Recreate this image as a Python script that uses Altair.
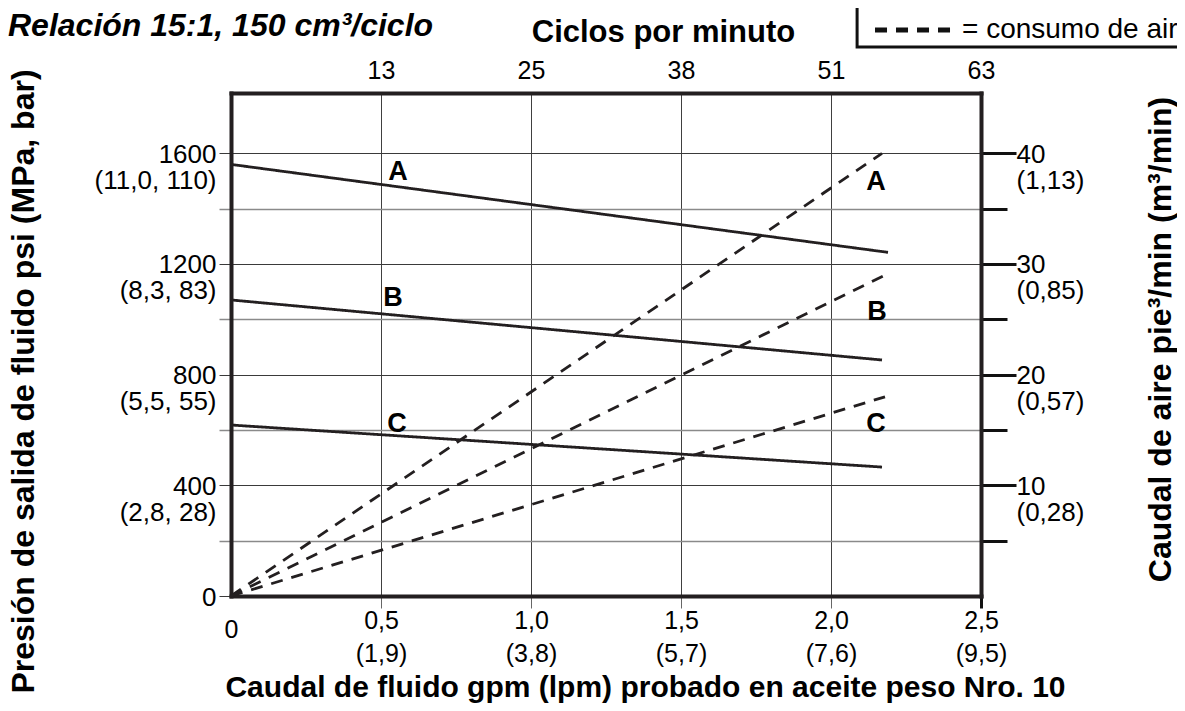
import altair as alt
import pandas as pd

FONT = "Liberation Sans"
INK = "#231f20"

# ---------------- data ----------------
series = ["A", "B", "C"]
# fluid outlet pressure (solid lines), psi vs gpm
fluid_gpm_start = [0.0, 0.0, 0.0]
fluid_gpm_end = [2.19, 2.17, 2.17]
fluid_psi_start = [1560, 1070, 618]
fluid_psi_end = [1242, 853, 466]
# air consumption (dashed lines), scfm vs gpm
air_gpm_start = [0.0, 0.0, 0.0]
air_gpm_end = [2.17, 2.18, 2.18]
air_scfm_start = [0.0, 0.0, 0.0]
air_scfm_end = [40.0, 29.0, 18.0]

# curve letters
letter_text = ["A", "B", "C", "A", "B", "C"]
letter_gpm = [0.557, 0.54, 0.553, 2.15, 2.153, 2.15]
letter_psi = [1532, 1077, 622, 1496, 1026, 622]

# legend frame (in chart units, top-right corner outside the plot)
legend_box_gpm = [2.087, 3.2]
legend_box_psi = [1984, 2160]

# axis ticks and labels
gpm_ticks = [0, 0.5, 1.0, 1.5, 2.0, 2.5]
gpm_labels = ["0", "0,5", "1,0", "1,5", "2,0", "2,5"]
lpm_labels = ["", "(1,9)", "(3,8)", "(5,7)", "(7,6)", "(9,5)"]
cpm_ticks = [0.5, 1.0, 1.5, 2.0, 2.5]
cpm_labels = ["13", "25", "38", "51", "63"]
psi_grid = [0, 200, 400, 600, 800, 1000, 1200, 1400, 1600]
psi_ticks = [0, 400, 800, 1200, 1600]
psi_labels = ["0", "400", "800", "1200", "1600"]
mpa_bar_labels = ["", "(2,8, 28)", "(5,5, 55)", "(8,3, 83)", "(11,0, 110)"]
scfm_grid = [5, 10, 15, 20, 25, 30, 35, 40]
scfm_ticks = [10, 20, 30, 40]
scfm_labels = ["10", "20", "30", "40"]
m3_labels = ["(0,28)", "(0,57)", "(0,85)", "(1,13)"]

PSI_MAX = 1818
SCFM_MAX = PSI_MAX / 40.0
KIND_FLUID = "= caudal de fluido"
KIND_AIR = "= consumo de aire"

# ---------------- tables ----------------
fluid_rows = []
for s, g0, g1, p0, p1 in zip(series, fluid_gpm_start, fluid_gpm_end, fluid_psi_start, fluid_psi_end):
    fluid_rows.append({"serie": s, "gpm": g0, "psi": p0, "kind": KIND_FLUID})
    fluid_rows.append({"serie": s, "gpm": g1, "psi": p1, "kind": KIND_FLUID})
fluid_df = pd.DataFrame(fluid_rows)

air_rows = []
for s, g0, g1, a0, a1 in zip(series, air_gpm_start, air_gpm_end, air_scfm_start, air_scfm_end):
    air_rows.append({"serie": s, "gpm": g0, "scfm": a0, "kind": KIND_AIR})
    air_rows.append({"serie": s, "gpm": g1, "scfm": a1, "kind": KIND_AIR})
air_df = pd.DataFrame(air_rows)

letters_df = pd.DataFrame({"label": letter_text, "gpm": letter_gpm, "psi": letter_psi})
box_df = pd.DataFrame({"gpm": [legend_box_gpm[0]], "gpm2": [legend_box_gpm[1]],
                       "psi": [legend_box_psi[0]], "psi2": [legend_box_psi[1]]})


def js(s):
    return "'" + s.replace("'", "\\'") + "'"


def expr_map(values, literals, default="''"):
    out = ""
    for v, l in zip(values, literals):
        out += f"datum.value == {v} ? {l} : "
    return out + default


def two_lines(a, b):
    if b:
        return "[" + js(a) + "," + js(b) + "]"
    return js(a)


bottom_expr = expr_map(gpm_ticks, [two_lines(a, b) for a, b in zip(gpm_labels, lpm_labels)])
left_expr = expr_map(psi_ticks, [two_lines(a, b) for a, b in zip(psi_labels, mpa_bar_labels)])
right_expr = expr_map(scfm_ticks, [two_lines(a, b) for a, b in zip(scfm_labels, m3_labels)])
top_expr = expr_map(cpm_ticks, [js(a) for a in cpm_labels])

x_scale = alt.Scale(domain=[0, 2.5], nice=False, zero=False)
psi_scale = alt.Scale(domain=[0, PSI_MAX], nice=False)
scfm_scale = alt.Scale(domain=[0, SCFM_MAX], nice=False)
dash_scale = alt.Scale(domain=[KIND_FLUID, KIND_AIR], range=[[1, 0], [12, 9]])

frame = dict(domain=True, domainColor=INK, domainWidth=4, domainCap="square")

bottom_axis = alt.Axis(
    values=gpm_ticks, labelExpr=bottom_expr, grid=True, **frame,
    gridColor="#404040", gridWidth=1,
    tickSize=12, tickColor={"condition": {"test": "datum.value == 2.5", "value": "#111111"}, "value": "#666666"},
    tickWidth={"condition": {"test": "datum.value == 2.5", "value": 3}, "value": 1},
    tickOpacity={"condition": {"test": "datum.value == 0", "value": 0}, "value": 1},
    labelFontSize=25, labelFont=FONT, labelColor="black",
    labelBaseline="alphabetic", labelLineHeight=33,
    labelPadding={"condition": {"test": "datum.value == 0", "value": 29}, "value": 20},
    labelFlush=False, labelOverlap=False,
    title="Caudal de fluido gpm (lpm) probado en aceite peso Nro. 10",
    titleFont=FONT, titleFontSize=30, titleFontWeight="bold", titleColor="black",
    titleX=414, titleY=100, titleAlign="center", titleBaseline="alphabetic",
)

left_axis = alt.Axis(
    values=psi_grid, labelExpr=left_expr, grid=True, **frame,
    gridColor={"condition": {"test": "datum.value % 400 == 0", "value": "#3a3a3a"}, "value": "#8a8a8a"},
    gridWidth={"condition": {"test": "datum.value % 400 == 0", "value": 1}, "value": 1.5},
    tickSize=12, tickColor={"condition": {"test": "datum.value % 400 == 0", "value": "#3a3a3a"}, "value": "#8a8a8a"},
    tickWidth={"condition": {"test": "datum.value % 400 == 0", "value": 1}, "value": 1.5},
    labelFontSize=26, labelFont=FONT, labelColor="black",
    labelAlign="right", labelBaseline="alphabetic", labelLineHeight=26,
    labelOffset=9, labelPadding=3, labelFlush=False, labelOverlap=False,
    title="Presión de salida de fluido psi (MPa, bar)",
    titleFont=FONT, titleFontSize=32, titleFontWeight="bold", titleColor="black",
    titleAngle=270, titleX=-198, titleY=288, titleAlign="center", titleBaseline="alphabetic",
)

top_axis = alt.Axis(
    orient="top", values=cpm_ticks, labelExpr=top_expr, grid=False, **frame, ticks=False,
    labelFontSize=25, labelFont=FONT, labelColor="black",
    labelBaseline="alphabetic", labelPadding=15, labelFlush=False, labelOverlap=False,
    title="Ciclos por minuto",
    titleFont=FONT, titleFontSize=31, titleFontWeight="bold", titleColor="black",
    titleX=432, titleY=-52, titleAlign="center", titleBaseline="alphabetic",
)

right_axis = alt.Axis(
    orient="right", values=scfm_grid, labelExpr=right_expr, grid=False, **frame,
    tickColor="#111111", tickWidth=3,
    tickSize={"condition": {"test": "datum.value % 10 == 0", "value": 35}, "value": 26},
    labelFontSize=26, labelFont=FONT, labelColor="black",
    labelAlign="left", labelBaseline="alphabetic", labelLineHeight=26,
    labelOffset=9, labelPadding=0, labelFlush=False, labelOverlap=False,
    title="Caudal de aire pie³/min (m³/min)",
    titleFont=FONT, titleFontSize=32, titleFontWeight="bold", titleColor="black",
    titleAngle=270, titleX=189, titleY=246, titleAlign="center", titleBaseline="alphabetic",
)

legend = alt.Legend(
    title=None, orient="none", legendX=626, legendY=-113, direction="vertical",
    symbolType="M-4,0H4", symbolSize=420, symbolStrokeWidth=5, symbolStrokeColor="#111111",
    symbolOffset=42, labelOffset=32, labelFont=FONT, labelFontSize=28, labelColor="black",
    labelLimit=400, padding=3, rowPadding=5,
)

solid = alt.Chart(fluid_df).mark_line(color=INK, strokeWidth=2.8).encode(
    x=alt.X("gpm:Q", scale=x_scale, axis=bottom_axis),
    y=alt.Y("psi:Q", scale=psi_scale, axis=left_axis),
    detail="serie:N",
    strokeDash=alt.StrokeDash("kind:N", scale=dash_scale, legend=legend),
)

letters = alt.Chart(letters_df).mark_text(
    font=FONT, fontSize=27, fontWeight="bold", color="black", align="center", baseline="middle"
).encode(
    x=alt.X("gpm:Q", scale=x_scale),
    y=alt.Y("psi:Q", scale=psi_scale),
    text="label:N",
)

legend_frame = alt.Chart(box_df).mark_rect(fill="white", stroke="#111111", strokeWidth=3).encode(
    x=alt.X("gpm:Q", scale=x_scale),
    x2="gpm2:Q",
    y=alt.Y("psi:Q", scale=psi_scale),
    y2="psi2:Q",
)

dashed = alt.Chart(air_df).mark_line(color=INK, strokeWidth=2.8).encode(
    x=alt.X("gpm:Q", scale=x_scale, axis=top_axis),
    y=alt.Y("scfm:Q", scale=scfm_scale, axis=right_axis),
    detail="serie:N",
    strokeDash=alt.StrokeDash("kind:N", scale=dash_scale, legend=legend),
)

chart = (
    alt.layer(alt.layer(solid, letters, legend_frame), dashed)
    .resolve_scale(x="independent", y="independent")
    .properties(
        width=750, height=503,
        autosize=alt.AutoSizeParams(type="none"),
        padding={"left": 223, "top": 85, "right": 196, "bottom": 107},
        title=alt.TitleParams(
            text="Modelo D10Pxx", subtitle="Relación 15:1, 150 cm³/ciclo",
            anchor="start", frame="group", dx=-223, dy=66,
            font=FONT, fontSize=30, fontWeight="bold", color="black",
            subtitleFont=FONT, subtitleFontSize=32, subtitleFontWeight="bold",
            subtitleFontStyle="italic", subtitleColor="black", subtitlePadding=2,
        ),
    )
    .configure_view(stroke=None)
    .configure(background="white")
)

chart.save("out.html", embed_options={"renderer": "svg", "actions": False})
